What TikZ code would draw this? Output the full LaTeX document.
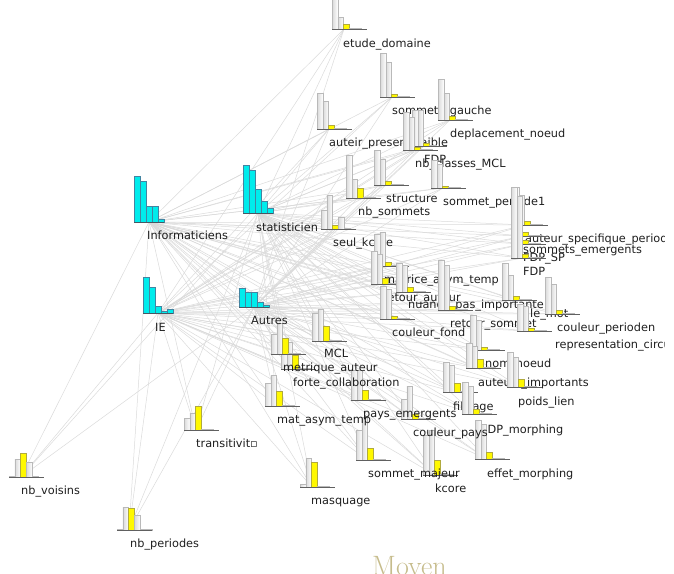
\documentclass[tikz,border=0pt]{standalone}
\usepackage{fontspec}
\setsansfont{DejaVu Sans}
\definecolor{edgegray}{RGB}{218,218,218}
\definecolor{barcyan}{RGB}{0,236,236}
\definecolor{baryellow}{RGB}{255,248,0}
\definecolor{moyentan}{RGB}{198,188,140}
\definecolor{labelink}{RGB}{30,30,30}
\def\catlist{IE/143/313/{36,26,7,2,4}/IE/155/331,
  Inf/134/222/{46,41,16,16,3}/Informaticiens/147/239,
  Stat/243/213/{48,43,24,12,5}/statisticien/256/231,
  Aut/239/307/{19,15,15,5,2}/Autres/251/324}
\def\featlist{332/29/{40,12,5,1,1,0}/etude\_domaine/343/47,
  380/97/{44,35,3,1,1,0}/sommets\_gauche/392/114,
  438/120/{41,27,4,1,1,0}/deplacement\_noeud/450/137,
  317/129/{36,28,4,1,1,0}/auteir\_present\_faible/329/146,
  412/146/{36,36,3,1,0,0}/FDP/424/163,
  403/150/{38,33,3,1,1,0}/nb\_classes\_MCL/415/167,
  374/185/{35,26,4,1,1,0}/structure/386/202,
  346/198/{43,19,10,1,1,0}/nb\_sommets/358/215,
  431/188/{28,24,2,1,1,0}/sommet\_periode1/443/205,
  321/229/{19,34,4,12,1,0}/seul\_kcore/333/246,
  513/225/{38,30,4,1,1,0}/auteur\_specifique\_periode/525/242,
  511/236/{48,40,4,1,1,0}/sommets\_emergents/523/253,
  511/244/{55,45,4,1,1,0}/FDP\_SP/523/261,
  511/258/{71,62,4,1,1,0}/FDP/523/275,
  374/266/{32,34,4,1,1,0}/matrice\_asym\_temp/384/283,
  371/284/{33,30,6,1,1,0}/retour\_auteur/383/301,
  396/292/{29,27,5,1,1,0}/nuance\_pas\_importante/408/308,
  380/319/{33,30,3,1,1,0}/couleur\_fond/392/336,
  438/310/{50,45,4,1,1,0}/retour\_sommet/450/327,
  502/300/{37,25,4,1,1,0}/le\_mot/530/317,
  545/314/{37,30,4,1,1,0}/couleur\_perioden/557/331,
  517/331/{27,25,3,1,1,0}/representation\_circulaire/555/348,
  470/350/{35,30,3,1,1,0}/nom\_noeud/485/367,
  466/368/{25,22,9,1,1,0}/auteurs\_importants/478/386,
  507/387/{35,30,8,1,1,0}/poids\_lien/518/405,
  443/392/{30,27,9,1,1,0}/filtrage/453/410,
  462/414/{32,28,5,1,1,0}/FDP\_morphing/481/433,
  475/459/{39,35,7,1,1,0}/effet\_morphing/487/477,
  423/475/{40,45,15,1,1,0}/kcore/435/492,
  356/460/{30,43,12,1,1,0}/sommet\_majeur/368/477,
  401/419/{20,33,5,1,1,0}/couleur\_pays/413/436,
  351/400/{30,30,10,1,1,0}/pays\_emergents/363/417,
  281/369/{15,27,14,1,1,0}/forte\_collaboration/293/386,
  271/354/{20,31,16,1,1,0}/metrique\_auteur/283/371,
  312/341/{28,32,15,1,1,0}/MCL/324/357,
  265/406/{23,31,15,1,1,0}/mat\_asym\_temp/277/423,
  300/487/{3,29,25,1,1,0}/masquage/311/504,
  184/430/{12,17,24,1,1,0}/transitivit▫/196/447,
  9/477/{1,18,24,15,1,0}/nb\_voisins/21/494,
  117/530/{1,23,22,15,1,1}/nb\_periodes/130/547}
\begin{document}
\begin{tikzpicture}[x=1pt,y=-1pt,
  edge/.style={draw=edgegray,line width=0.5pt},
  graybar/.style={left color=gray!30,right color=white,draw=gray!55,line width=0.3pt},
  hitbar/.style={fill=baryellow,draw=yellow!65!black,line width=0.3pt},
  catbar/.style={fill=barcyan,draw=cyan!60!black,line width=0.3pt},
  baseline/.style={draw=gray!75!black,line width=0.8pt},
  lbl/.style={anchor=base west,inner sep=0,font=\sffamily\fontsize{11.3}{13}\selectfont,text=labelink}]
  \useasboundingbox (0,0) rectangle (674,573);
  \clip (0,0) rectangle (664,573);
  \foreach \nm/\px/\py/\hs/\txt/\lx/\ly in \catlist
    \coordinate (\nm) at ({\px+15},\py);
  \foreach \px/\py/\hs/\txt/\lx/\ly [count=\n] in \featlist
    \coordinate (f\n) at ({\px+12},\py);
  \foreach \nm in {IE,Inf,Stat,Aut}
    \foreach \n in {1,...,40}
      \draw[edge] (\nm) -- (f\n);
  \foreach \px/\py/\hs/\txt/\lx/\ly [count=\n] in \featlist {
    \foreach \h [count=\i] in \hs {
      \ifnum\i=3
        \path[hitbar] ({\px+(\i-1)*5.8},\py) rectangle ({\px+\i*5.8},{\py-\h});
      \else
        \path[graybar] ({\px+(\i-1)*5.8},\py) rectangle ({\px+\i*5.8},{\py-\h});
      \fi
    }
    \draw[baseline] (\px,\py) -- ({\px+35},\py);
    \node[lbl] (t\n) at (\lx,\ly) {\txt};
  }
  \foreach \nm/\px/\py/\hs/\txt/\lx/\ly in \catlist {
    \foreach \h [count=\i] in \hs
      \path[catbar] ({\px+(\i-1)*6},\py) rectangle ({\px+\i*6},{\py-\h});
    \draw[draw=cyan!30!black,line width=0.8pt] (\px,\py) -- ({\px+30},\py);
    \node[lbl] (t\nm) at (\lx,\ly) {\txt};
  }
  \node[anchor=base west,inner sep=0,text=moyentan,font=\fontsize{28}{30}\selectfont] (moyen) at (372,575) {Moyen};
\end{tikzpicture}
\end{document}
